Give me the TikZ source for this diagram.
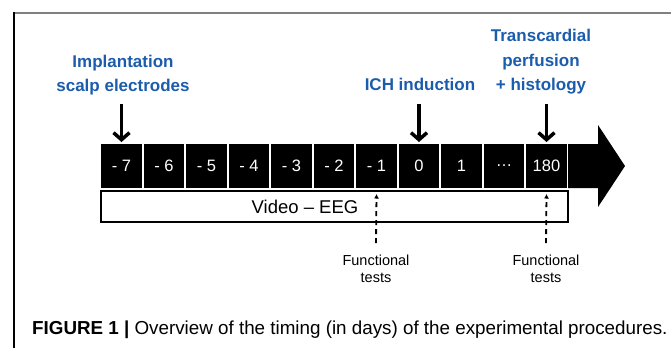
\documentclass[tikz,border=0pt]{standalone}
\usepackage{fontspec}
\setmainfont{Liberation Sans}
\usepackage{tikz}
\usetikzlibrary{arrows.meta}
\usepackage{xcolor}
\definecolor{eventblue}{RGB}{28,92,172}
\tikzset{>=latex}

\begin{document}
\begin{tikzpicture}[x=1pt, y=-1pt]
        % day = black day cell, bigdown = event arrow, testup = dashed test arrow
        \tikzstyle{day}=[fill=black, draw=white, line width=2pt, text=white, minimum width=42.5pt, minimum height=46pt, inner sep=0pt, font=\fontsize{16.5}{18}\selectfont, node distance=42.5pt]
        \tikzstyle{event}=[text=eventblue, align=center, font=\fontsize{17}{24.5}\selectfont\bfseries]
        \tikzstyle{ftest}=[align=center, font=\fontsize{14.5}{17}\selectfont]
        \tikzstyle{bigdown}=[-{Straight Barb[length=7pt, width=16pt]}, line width=3.5pt]
        \tikzstyle{testup}=[-{Latex[length=4.5pt, width=5pt]}, dash pattern=on 5pt off 4pt, line width=1.8pt]

        \useasboundingbox (0,0) rectangle (671,348);
        \draw[gray, line width=2pt] (14,13) -- (671,13);
        \draw[line width=1.5pt] (14,12) -- (14,348);

        \node[day] (d7) at (121.5,166) {- 7};
        \node[day] (d6) [right of = d7] {- 6};
        \node[day] (d5) [right of = d6] {- 5};
        \node[day] (d4) [right of = d5] {- 4};
        \node[day] (d3) [right of = d4] {- 3};
        \node[day] (d2) [right of = d3] {- 2};
        \node[day] (d1) [right of = d2] {- 1};
        \node[day] (d0) [right of = d1] {0};
        \node[day] (dp1) [right of = d0] {1};
        \node[day] (ddots) [right of = dp1] {\dots};
        \node[day] (d180) [right of = ddots] {180};

        % big arrow after the last day
        \fill (568,144) -- (598,144) -- (598,125) -- (625,166) -- (598,207) -- (598,188) -- (568,188) -- cycle;

        \node[draw, line width=1.5pt, minimum width=467pt, minimum height=31pt, inner sep=0pt] (eeg) at (334.5,206.5) {};
        \node[font=\fontsize{18.5}{20}\selectfont] (eegtxt) at ([xshift=-29.5pt]eeg.center) {Video -- EEG};

        \node[event] (implant) at (123,75) {Implantation\\scalp electrodes};
        \node[event] (ich) at (420,84) {ICH induction};
        \node[event] (perf) at (541,62) {Transcardial\\perfusion\\+ histology};

        \draw[bigdown] ([yshift=38pt]d7.north) -- (d7.north);
        \draw[bigdown] ([yshift=38pt]d0.north) -- (d0.north);
        \draw[bigdown] ([yshift=38pt]d180.north) -- (d180.north);

        \node[ftest] (ft1) at (376,268.5) {Functional\\tests};
        \node[ftest] (ft2) at (546,268.5) {Functional\\tests};
        \draw[testup] ([yshift=8pt]ft1.north) -- ([yshift=-4pt]d1.south);
        \draw[testup] ([yshift=8pt]ft2.north) -- ([yshift=-4pt]d180.south);

        \node[anchor=west, inner sep=0pt, font=\fontsize{18.8}{20}\selectfont] (caption) at (32,329.5) {\textbf{FIGURE 1 |} Overview of the timing (in days) of the experimental procedures.};
\end{tikzpicture}
\end{document}
